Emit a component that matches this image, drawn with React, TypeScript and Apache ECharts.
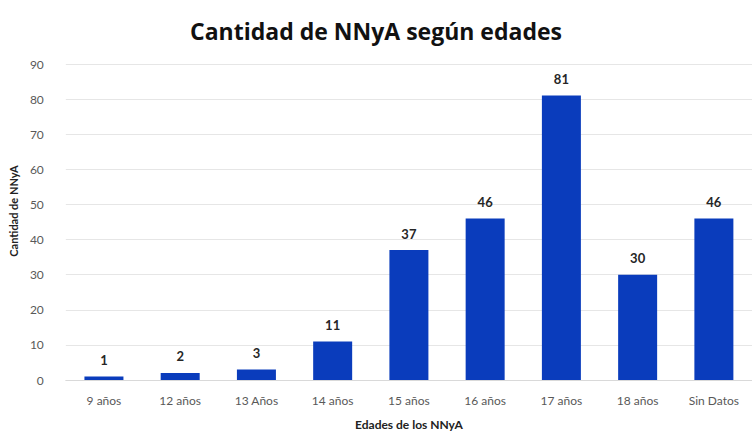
import React, { useEffect, useRef } from "react";
import * as echarts from "echarts";

const categories = ["9 años", "12 años", "13 Años", "14 años", "15 años", "16 años", "17 años", "18 años", "Sin Datos"];
const values = [1, 2, 3, 11, 37, 46, 81, 30, 46];
const titleText = "Cantidad de NNyA según edades";
const xName = "Edades de los NNyA";
const yName = "Cantidad de NNyA";

export default function App() {
  const ref = useRef<HTMLDivElement>(null);
  useEffect(() => {
    const chart = echarts.init(ref.current!, null, { renderer: "svg" });
    const font = "Lato, 'Open Sans', sans-serif";
    chart.setOption({
      animation: false,
      backgroundColor: "#ffffff",
      title: {
        text: titleText,
        left: "center",
        top: 14,
        textStyle: { fontFamily: "'Open Sans', sans-serif", fontSize: 23, fontWeight: "bold", color: "#111" },
      },
      grid: { left: 61, width: 697, top: 64, bottom: 53, containLabel: false },
      xAxis: {
        type: "category",
        data: categories,
        name: xName,
        nameLocation: "middle",
        nameGap: 38,
        nameTextStyle: { fontFamily: font, fontSize: 12, fontWeight: "bold", color: "#222" },
        axisLine: { lineStyle: { color: "#d9d9d9" } },
        axisTick: { show: false },
        axisLabel: { fontFamily: font, fontSize: 12, color: "#595959", margin: 14 },
      },
      yAxis: {
        type: "value",
        min: 0,
        max: 90,
        interval: 10,
        name: yName,
        nameLocation: "middle",
        nameGap: 39,
        nameRotate: 90,
        nameTextStyle: { fontFamily: font, fontSize: 11, fontWeight: "bold", color: "#222", padding: [0, 0, 0, 22] },
        axisLabel: { fontFamily: font, fontSize: 12, color: "#595959", margin: 22 },
        splitLine: { lineStyle: { color: "#e6e6e6" } },
        axisLine: { show: false },
        axisTick: { show: false },
      },
      series: [
        {
          type: "bar",
          data: values,
          barWidth: 39,
          itemStyle: { color: "#0a3cbc" },
          label: {
            show: true,
            position: "top",
            distance: 10,
            fontFamily: font,
            fontSize: 13,
            fontWeight: "bold",
            color: "#262626",
          },
        },
      ],
    });
    return () => chart.dispose();
  }, []);
  return <div ref={ref} style={{ width: 752, height: 435, position: "absolute", left: 0, top: 0 }} />;
}
